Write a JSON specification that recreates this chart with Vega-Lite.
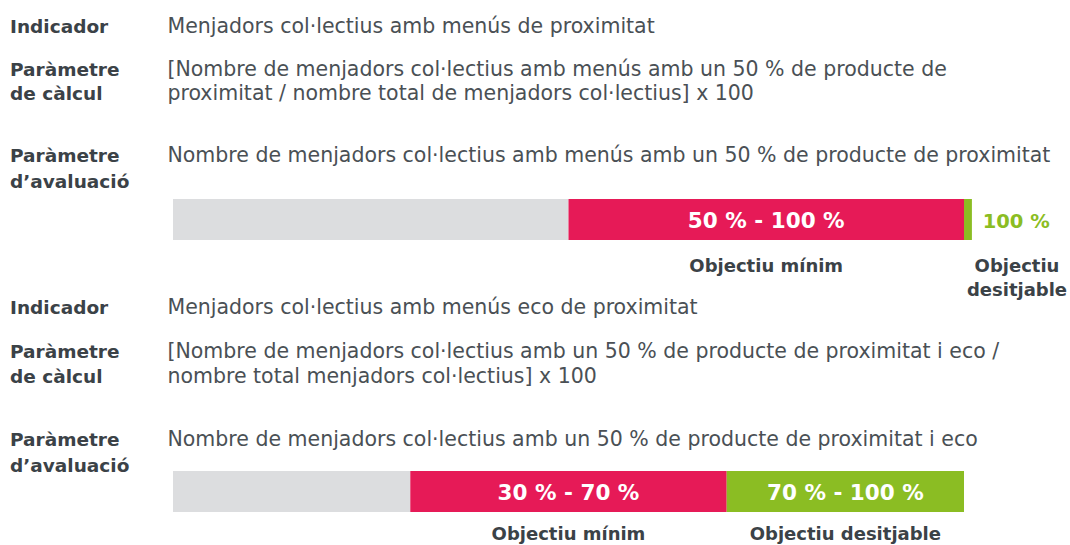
{
  "$schema": "https://vega.github.io/schema/vega-lite/v6.json",
  "width": 1070,
  "height": 545,
  "autosize": {"type": "fit", "contains": "padding"},
  "padding": 0,
  "background": "white",
  "config": {"view": {"stroke": null}, "text": {"font": "DejaVu Sans", "baseline": "alphabetic", "lineBreak": "\n"}},
  "datasets": {
    "trams": [
      {"indicador": "proximitat", "tram": "Fora d'objectiu", "inici": 0, "fi": 50},
      {"indicador": "proximitat", "tram": "Objectiu mínim", "inici": 50, "fi": 100},
      {"indicador": "proximitat", "tram": "Objectiu desitjable", "inici": 100, "fi": 101},
      {"indicador": "eco", "tram": "Fora d'objectiu", "inici": 0, "fi": 30},
      {"indicador": "eco", "tram": "Objectiu mínim", "inici": 30, "fi": 70},
      {"indicador": "eco", "tram": "Objectiu desitjable", "inici": 70, "fi": 100}
    ]
  },
  "layer": [
    {
      "data": {"name": "trams"},
      "transform": [{"filter": "datum.indicador === 'proximitat'"}],
      "mark": {"type": "bar"},
      "encoding": {
        "x": {"field": "inici", "type": "quantitative", "scale": {"domain": [-21.871, 113.401], "nice": false, "zero": false}, "axis": null},
        "x2": {"field": "fi"},
        "y": {"datum": 199, "type": "quantitative", "scale": {"domain": [0, 545], "reverse": true, "nice": false, "zero": false}, "axis": null},
        "y2": {"datum": 240},
        "color": {"field": "tram", "type": "nominal", "scale": {"domain": ["Fora d'objectiu", "Objectiu mínim", "Objectiu desitjable"], "range": ["#dcdddf", "#e61a57", "#8bbd23"]}, "legend": null}
      }
    },
    {
      "data": {"name": "trams"},
      "transform": [{"filter": "datum.indicador === 'eco'"}],
      "mark": {"type": "bar"},
      "encoding": {
        "x": {"field": "inici", "type": "quantitative"},
        "x2": {"field": "fi"},
        "y": {"datum": 471, "type": "quantitative"},
        "y2": {"datum": 512},
        "color": {"field": "tram", "type": "nominal", "legend": null}
      }
    },
    {"data": {"values": [{"t": "Indicador"}]}, "mark": {"type": "text", "align": "left", "fontSize": 18.5, "fontWeight": "bold", "color": "#3b4247"}, "encoding": {"x": {"datum": -20.6}, "y": {"datum": 33}, "text": {"field": "t"}}},
    {"data": {"values": [{"t": "Paràmetre\nde càlcul"}]}, "mark": {"type": "text", "align": "left", "fontSize": 18.5, "fontWeight": "bold", "color": "#3b4247", "lineHeight": 24}, "encoding": {"x": {"datum": -20.6}, "y": {"datum": 76}, "text": {"field": "t"}}},
    {"data": {"values": [{"t": "Paràmetre\nd’avaluació"}]}, "mark": {"type": "text", "align": "left", "fontSize": 18.5, "fontWeight": "bold", "color": "#3b4247", "lineHeight": 26}, "encoding": {"x": {"datum": -20.6}, "y": {"datum": 162}, "text": {"field": "t"}}},
    {"data": {"values": [{"t": "Indicador"}]}, "mark": {"type": "text", "align": "left", "fontSize": 18.5, "fontWeight": "bold", "color": "#3b4247"}, "encoding": {"x": {"datum": -20.6}, "y": {"datum": 314}, "text": {"field": "t"}}},
    {"data": {"values": [{"t": "Paràmetre\nde càlcul"}]}, "mark": {"type": "text", "align": "left", "fontSize": 18.5, "fontWeight": "bold", "color": "#3b4247", "lineHeight": 25}, "encoding": {"x": {"datum": -20.6}, "y": {"datum": 358}, "text": {"field": "t"}}},
    {"data": {"values": [{"t": "Paràmetre\nd’avaluació"}]}, "mark": {"type": "text", "align": "left", "fontSize": 18.5, "fontWeight": "bold", "color": "#3b4247", "lineHeight": 26}, "encoding": {"x": {"datum": -20.6}, "y": {"datum": 446}, "text": {"field": "t"}}},
    {"data": {"values": [{"t": "Menjadors col·lectius amb menús de proximitat"}]}, "mark": {"type": "text", "align": "left", "fontSize": 20.5, "color": "#4a5055"}, "encoding": {"x": {"datum": -0.7}, "y": {"datum": 33}, "text": {"field": "t"}}},
    {"data": {"values": [{"t": "[Nombre de menjadors col·lectius amb menús amb un 50 % de producte de\nproximitat / nombre total de menjadors col·lectius] x 100"}]}, "mark": {"type": "text", "align": "left", "fontSize": 20.5, "color": "#4a5055", "lineHeight": 24}, "encoding": {"x": {"datum": -0.7}, "y": {"datum": 76}, "text": {"field": "t"}}},
    {"data": {"values": [{"t": "Nombre de menjadors col·lectius amb menús amb un 50 % de producte de proximitat"}]}, "mark": {"type": "text", "align": "left", "fontSize": 20.5, "color": "#4a5055"}, "encoding": {"x": {"datum": -0.7}, "y": {"datum": 162}, "text": {"field": "t"}}},
    {"data": {"values": [{"t": "Menjadors col·lectius amb menús eco de proximitat"}]}, "mark": {"type": "text", "align": "left", "fontSize": 20.5, "color": "#4a5055"}, "encoding": {"x": {"datum": -0.7}, "y": {"datum": 314}, "text": {"field": "t"}}},
    {"data": {"values": [{"t": "[Nombre de menjadors col·lectius amb un 50 % de producte de proximitat i eco /\nnombre total menjadors col·lectius] x 100"}]}, "mark": {"type": "text", "align": "left", "fontSize": 20.5, "color": "#4a5055", "lineHeight": 25}, "encoding": {"x": {"datum": -0.7}, "y": {"datum": 358}, "text": {"field": "t"}}},
    {"data": {"values": [{"t": "Nombre de menjadors col·lectius amb un 50 % de producte de proximitat i eco"}]}, "mark": {"type": "text", "align": "left", "fontSize": 20.5, "color": "#4a5055"}, "encoding": {"x": {"datum": -0.7}, "y": {"datum": 446}, "text": {"field": "t"}}},
    {"data": {"values": [{"t": "50 % - 100 %"}]}, "mark": {"type": "text", "align": "center", "fontSize": 21.5, "fontWeight": "bold", "color": "white"}, "encoding": {"x": {"datum": 75}, "y": {"datum": 228}, "text": {"field": "t"}}},
    {"data": {"values": [{"t": "100 %"}]}, "mark": {"type": "text", "align": "center", "fontSize": 19.5, "fontWeight": "bold", "color": "#8bbd23"}, "encoding": {"x": {"datum": 106.6}, "y": {"datum": 228}, "text": {"field": "t"}}},
    {"data": {"values": [{"t": "Objectiu mínim"}]}, "mark": {"type": "text", "align": "center", "fontSize": 18, "fontWeight": "bold", "color": "#3b4247"}, "encoding": {"x": {"datum": 75}, "y": {"datum": 272}, "text": {"field": "t"}}},
    {"data": {"values": [{"t": "Objectiu\ndesitjable"}]}, "mark": {"type": "text", "align": "center", "fontSize": 18, "fontWeight": "bold", "color": "#3b4247", "lineHeight": 24}, "encoding": {"x": {"datum": 106.7}, "y": {"datum": 272}, "text": {"field": "t"}}},
    {"data": {"values": [{"t": "30 % - 70 %"}]}, "mark": {"type": "text", "align": "center", "fontSize": 21.5, "fontWeight": "bold", "color": "white"}, "encoding": {"x": {"datum": 50}, "y": {"datum": 500}, "text": {"field": "t"}}},
    {"data": {"values": [{"t": "70 % - 100 %"}]}, "mark": {"type": "text", "align": "center", "fontSize": 21.5, "fontWeight": "bold", "color": "white"}, "encoding": {"x": {"datum": 85}, "y": {"datum": 500}, "text": {"field": "t"}}},
    {"data": {"values": [{"t": "Objectiu mínim"}]}, "mark": {"type": "text", "align": "center", "fontSize": 18, "fontWeight": "bold", "color": "#3b4247"}, "encoding": {"x": {"datum": 50}, "y": {"datum": 540}, "text": {"field": "t"}}},
    {"data": {"values": [{"t": "Objectiu desitjable"}]}, "mark": {"type": "text", "align": "center", "fontSize": 18, "fontWeight": "bold", "color": "#3b4247"}, "encoding": {"x": {"datum": 85}, "y": {"datum": 540}, "text": {"field": "t"}}}
  ]
}
